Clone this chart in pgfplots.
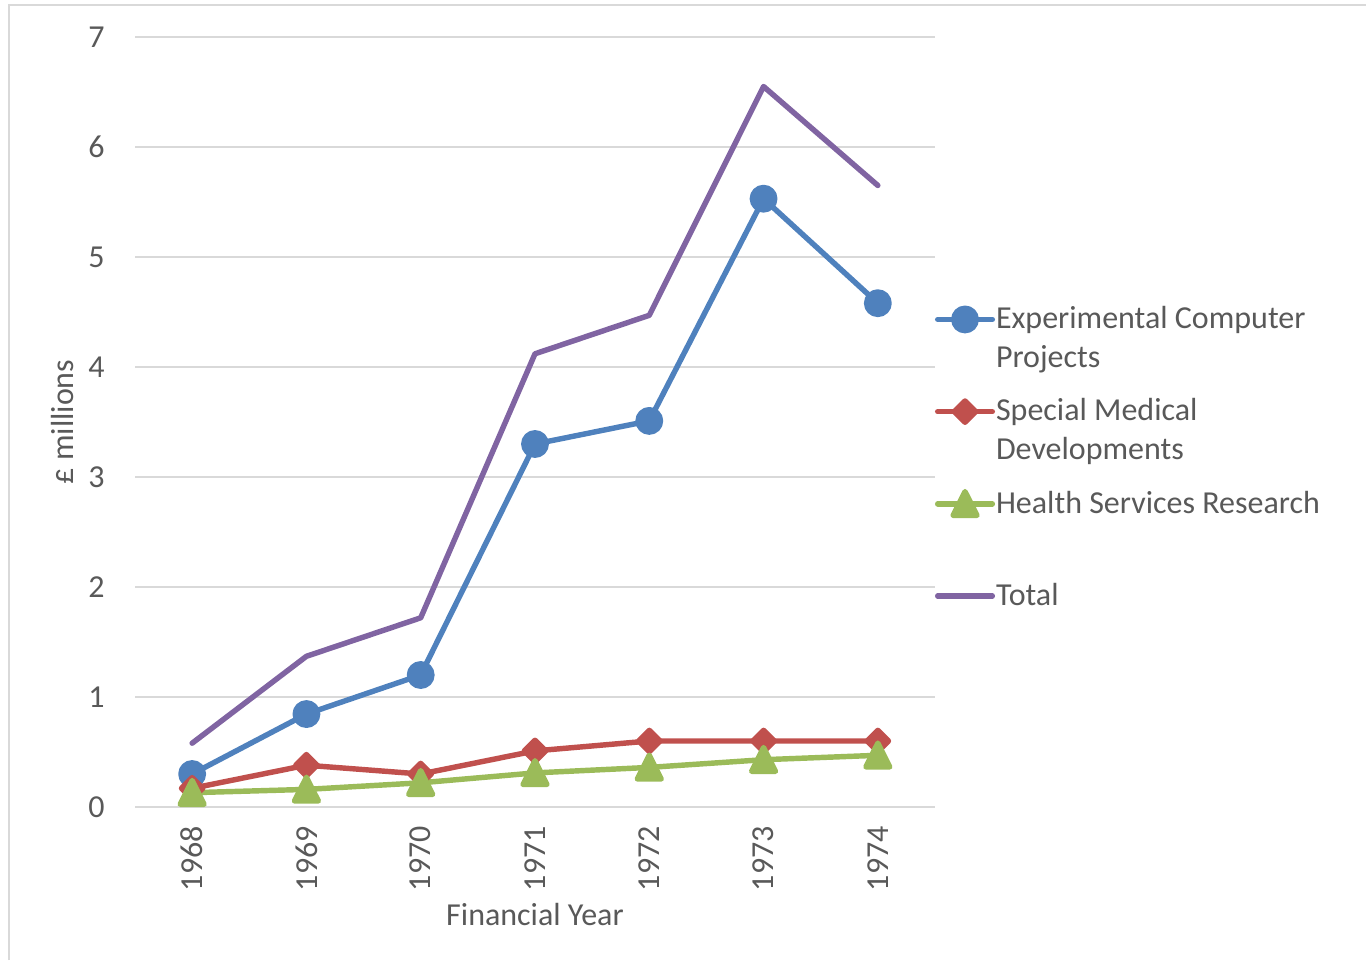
\documentclass[border=0pt]{standalone}
\usepackage{fontspec}
\setmainfont{Carlito}
\usepackage{pgfplots}
\pgfplotsset{compat=1.18}
\definecolor{ecblue}{HTML}{4F81BD}
\definecolor{ecred}{HTML}{C0504D}
\definecolor{ecgreen}{HTML}{9BBB59}
\definecolor{ecpurple}{HTML}{8064A2}
\definecolor{gridgray}{HTML}{D9D9D9}
\definecolor{textgray}{HTML}{595959}
% legend text: first line centred on the legend image, room for two lines
\newcommand{\lgentry}[2]{\raisebox{0pt}[20.8pt][15pt]{\begin{tabular}[t]{@{}l@{}}#1\\#2\end{tabular}}}
\begin{document}
\begin{tikzpicture}
\useasboundingbox (0,0) rectangle (426.875pt,300pt);
\draw[gridgray, line width=0.7pt] (2.8pt,0) -- (2.8pt,298.4pt) -- (426.875pt,298.4pt);
\begin{axis}[
    at={(42.1875pt,47.8125pt)}, anchor=south west,
    scale only axis,
    width=250pt, height=240.625pt,
    xmin=-0.5, xmax=6.5,
    ymin=0, ymax=7,
    xtick={0,...,6},
    xticklabels={1968,1969,1970,1971,1972,1973,1974},
    ytick={0,...,7},
    ymajorgrids,
    grid style={gridgray, line width=0.6pt},
    axis line style={draw=none},
    major tick length=0pt,
    clip=false,
    /pgf/number format/assume math mode=true,
    tick label style={font=\fontsize{10}{12}\selectfont, text=textgray},
    xticklabel style={yshift=-2.5pt, rotate=90, anchor=east},
    yticklabel style={xshift=-6pt},
    label style={font=\fontsize{10}{12}\selectfont, text=textgray},
    xlabel={Financial Year},
    ylabel={£ millions},
    xlabel style={at={(axis description cs:0.5,-0.139)}, anchor=center},
    ylabel style={at={(axis description cs:-0.091,0.5)}, anchor=center},
    legend cell align=left,
    legend style={at={(1.0,0.725)}, anchor=north west, xshift=-3.2pt,
        draw=none, fill=none,
        font=\fontsize{10}{12}\selectfont, text=textgray, row sep=-11pt,
        nodes={inner xsep=0.3pt, text depth=, text height=}},
    every axis plot/.append style={line width=1.7pt, line join=round, line cap=round},
]
\addplot[ecblue, mark=*, mark size=3.5pt, mark options={solid}] coordinates {
(0,0.30) (1,0.845) (2,1.20) (3,3.30) (4,3.51) (5,5.53) (6,4.58)
};
\addlegendentry{\lgentry{Experimental Computer}{Projects}}
\addplot[ecred, mark=square*, mark size=2.35pt, mark options={rotate=45}] coordinates {
(0,0.17) (1,0.38) (2,0.30) (3,0.51) (4,0.60) (5,0.60) (6,0.60)
};
\addlegendentry{\lgentry{Special Medical}{Developments}}
\addplot[ecgreen, mark=triangle*, mark size=4.3pt, mark options={yscale=1.15, yshift=-1pt}] coordinates {
(0,0.13) (1,0.16) (2,0.22) (3,0.31) (4,0.36) (5,0.43) (6,0.47)
};
\addlegendentry{\lgentry{Health Services Research}{}}
\addplot[ecpurple, no marks] coordinates {
(0,0.58) (1,1.37) (2,1.72) (3,4.12) (4,4.47) (5,6.55) (6,5.65)
};
\addlegendentry{\lgentry{Total}{}}
\end{axis}
\end{tikzpicture}
\end{document}
